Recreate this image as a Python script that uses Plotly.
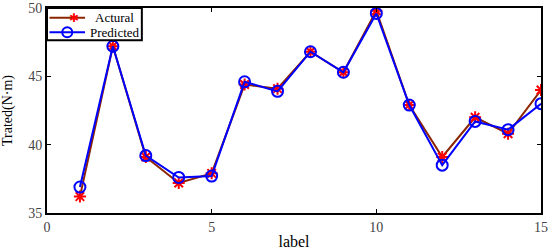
import plotly.graph_objects as go

# label index and torque values
labels = list(range(1, 16))
actual = [36.2, 47.2, 39.1, 37.2, 37.9, 44.4, 44.1, 46.8, 45.3, 49.8, 42.9, 39.1, 42.0, 40.8, 44.0]
predicted = [36.9, 47.2, 39.2, 37.6, 37.7, 44.6, 43.9, 46.8, 45.3, 49.6, 42.9, 38.5, 41.7, 41.1, 43.0]
names = ["Actural", "Predicted"]

font = "Liberation Serif"
red_line, red_mark, blue = "#8B2500", "#FF0000", "#0000FF"

fig = go.Figure()
fig.add_trace(go.Scatter(
	x=labels, y=actual, name=names[0], mode="lines+markers", showlegend=False,
	line=dict(color=red_line, width=2),
	marker=dict(symbol="asterisk-open", size=10, color=red_mark,
		line=dict(color=red_mark, width=2))))
fig.add_trace(go.Scatter(
	x=labels, y=predicted, name=names[1], mode="lines+markers", showlegend=False,
	line=dict(color=blue, width=2),
	marker=dict(symbol="circle-open", size=11, color=blue,
		line=dict(color=blue, width=2))))

axis_style = dict(showgrid=False, zeroline=False, showline=True, linecolor="black",
	linewidth=2, mirror="ticks", ticks="inside", ticklen=4, tickcolor="black",
	automargin=False, tickfont=dict(family=font, size=14, color="#444444"))

fig.update_xaxes(range=[0, 15], tickvals=[0, 5, 10, 15], title=dict(text="label",
	font=dict(family=font, size=16, color="black"), standoff=2), **axis_style)
fig.update_yaxes(range=[35, 50], tickvals=[35, 40, 45, 50], title=dict(text="Trated(N·m)",
	font=dict(family=font, size=14, color="black"), standoff=12), **axis_style)

# compact matlab-style legend box (plotly's own legend rows are too tall here)
fig.add_shape(type="rect", xref="paper", yref="paper", x0=0, x1=0.192, y0=0.843, y1=1,
	line=dict(color="black", width=2), fillcolor="white")
rows = [(0.953, red_line), (0.882, blue)]
for (ry, col) in rows:
	fig.add_shape(type="line", xref="paper", yref="paper", x0=0.005, x1=0.077, y0=ry, y1=ry,
		line=dict(color=col, width=2))
fig.add_annotation(x=0.041, y=rows[0][0], xref="paper", yref="paper", text="✱",
	showarrow=False, yanchor="middle",
	font=dict(family="DejaVu Sans", size=12, color=red_mark))
fig.add_shape(type="circle", xref="paper", yref="paper", xsizemode="pixel", ysizemode="pixel",
	xanchor=0.041, yanchor=rows[1][0], x0=-5, x1=5, y0=-5, y1=5,
	line=dict(color=blue, width=2))
for name, (ry, col) in zip(names, rows):
	fig.add_annotation(x=0.137, y=ry, xref="paper", yref="paper", text=name, showarrow=False,
		xanchor="center", yanchor="middle",
		font=dict(family=font, size=13, color="black"))

fig.update_layout(
	width=550, height=251,
	margin=dict(l=47, r=9, t=8, b=38),
	plot_bgcolor="white", paper_bgcolor="white",
	font=dict(family=font, color="black"),
	showlegend=False)

# drop the default body margin so the figure sits at the window corner
fig.write_html("out.html", config={"displayModeBar": False},
	post_script="document.body.style.margin='0';")
